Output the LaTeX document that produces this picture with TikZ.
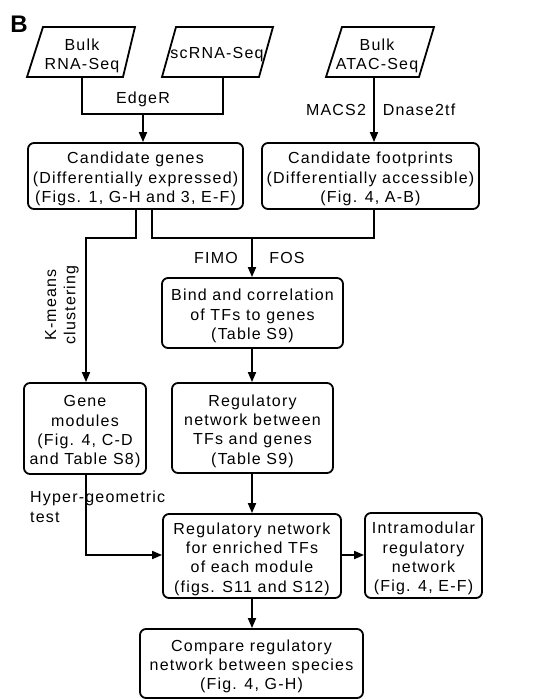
\documentclass[tikz,border=0pt]{standalone}
\usepackage{fontspec}
\setmainfont{Liberation Sans}[LetterSpace=7.5]
\usetikzlibrary{arrows.meta}
\newcommand{\fs}{\fontsize{16}{19.3}\selectfont}
\newcommand{\tp}{\rule{0pt}{17.7pt}}
\tikzset{
  box/.style={draw, line width=1.8pt, rounded corners=6pt, align=center, inner sep=0pt, font=\fs},
  lbl/.style={font=\fs, inner sep=0pt, align=center},
  conn/.style={line width=1.8pt},
  arr/.style={line width=1.8pt, -{Triangle[length=10pt,width=8pt]}},
  para/.style={line width=1.8pt, line join=miter}
}
\begin{document}
\begin{tikzpicture}[x=1pt,y=-1pt]
\useasboundingbox (0,0) rectangle (535,699);
\node[font=\fontsize{24}{26}\selectfont\bfseries, inner sep=0pt] (B) at (19,24) {B};

% input parallelograms
\draw[para] (43,27) -- (135,27) -- (123,77) -- (27,77) -- cycle;
\node[lbl] (rna) at (82,56) {Bulk\\RNA-Seq};
\draw[para] (176,27) -- (273,27) -- (259,77) -- (162,77) -- cycle;
\node[lbl] (sc) at (217,55) {scRNA-Seq};
\draw[para] (342,27) -- (434,27) -- (419,77) -- (326,77) -- cycle;
\node[lbl] (atac) at (377,56) {Bulk\\ATAC-Seq};
\coordinate (rnab) at (82,77);
\coordinate (scb) at (223,77);
\coordinate (atacb) at (374,77);

% boxes
\node[box, minimum width=215pt, minimum height=66pt] (cg) at (135.5,176) {\tp Candidate genes\\(Differentially expressed)\\(Figs. 1, G-H and 3, E-F)};
\node[box, minimum width=217pt, minimum height=66pt] (cf) at (370.5,176) {\tp Candidate footprints\\(Differentially accessible)\\(Fig. 4, A-B)};
\node[box, minimum width=181pt, minimum height=70pt] (bind) at (252.5,313) {\tp Bind and correlation\\of TFs to genes\\(Table S9)};
\node[box, minimum width=122pt, minimum height=91pt] (gm) at (85,428.5) {\tp Gene\\modules\\(Fig. 4, C-D\\and Table S8)};
\node[box, minimum width=161pt, minimum height=90pt] (rnb) at (252.5,428) {\tp Regulatory\\network between\\TFs and genes\\(Table S9)};
\node[box, minimum width=178pt, minimum height=84pt] (enr) at (252,556) {\tp Regulatory network\\for enriched TFs\\of each module\\(figs. S11 and S12)};
\node[box, minimum width=117pt, minimum height=85pt] (intra) at (423.5,555.5) {\tp Intramodular\\regulatory\\network\\(Fig. 4, E-F)};
\node[box, minimum width=223pt, minimum height=69pt] (cmp) at (251.5,663.5) {\tp Compare regulatory\\network between species\\(Fig. 4, G-H)};

% coordinates for junctions
\coordinate (edger) at (143,114);
\coordinate (j1) at (136,238);
\coordinate (j2) at (152,238);
\coordinate (j3) at (252,238);
\coordinate (jl) at (86,238);
\coordinate (jh) at (86,555);

% connectors
\draw[conn] (rnab) -- (82,114) -- (223,114) -- (scb);
\draw[arr] (edger) -- (edger |- cg.north);
\draw[arr] (atacb) -- (atacb |- cf.north);
\draw[arr] (j1 |- cg.south) -- (j1) -- (jl) -- (jl |- gm.north);
\draw[conn] (j2 |- cg.south) -- (j2) -- (374,238) -- (374,209);
\draw[arr] (j3) -- (j3 |- bind.north);
\draw[arr] (j3 |- bind.south) -- (j3 |- rnb.north);
\draw[arr] (j3 |- rnb.south) -- (j3 |- enr.north);
\draw[arr] (jl |- gm.south) -- (jh) -- (jh -| enr.west);
\draw[arr] (jh -| enr.east) -- (jh -| intra.west);
\draw[arr] (j3 |- enr.south) -- (j3 |- cmp.north);

% labels
\node[lbl] (edgerl) at (143,99) {EdgeR};
\node[lbl] (macs) at (336,110) {MACS2};
\node[lbl] (dnase) at (419,110) {Dnase2tf};
\node[lbl] (fimo) at (216,258) {FIMO};
\node[lbl] (fos) at (287,258) {FOS};
\node[lbl, rotate=90] (km) at (62,305) {K-means\\clustering};
\node[lbl, align=left, anchor=north west] (hyper) at (30,491) {Hyper-geometric\\test};
\end{tikzpicture}
\end{document}
